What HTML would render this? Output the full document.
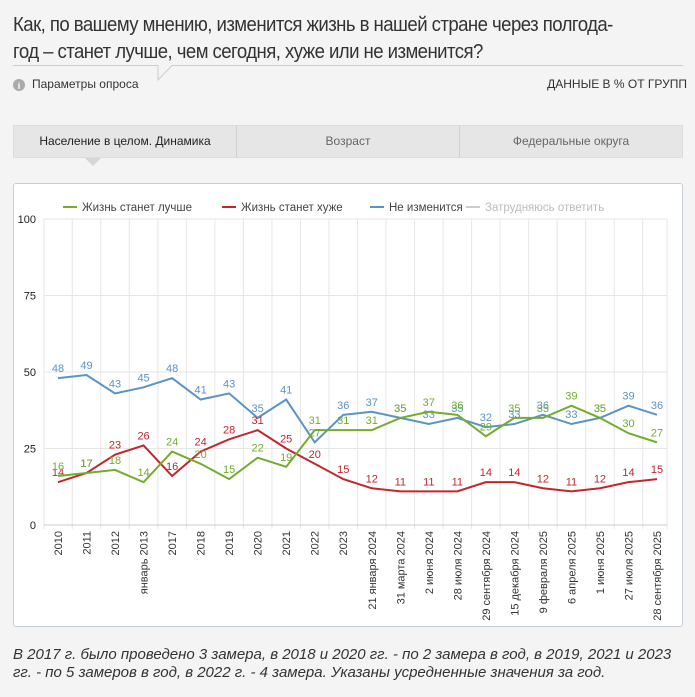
<!DOCTYPE html>
<html><head><meta charset="utf-8"><style>
body{margin:0;width:695px;height:697px;background:#f4f4f4;font-family:"Liberation Sans",sans-serif;position:relative;overflow:hidden}
.t{position:absolute;left:13px;top:12px;font-size:20px;line-height:27px;color:#333;letter-spacing:-0.6px;transform:scaleX(0.93);transform-origin:left}
.abs{position:absolute}
</style></head><body>
<div class="t">Как, по вашему мнению, изменится жизнь в нашей стране через полгода-<br>год – станет лучше, чем сегодня, хуже или не изменится?</div>
<svg class="abs" style="left:0;top:0" width="695" height="190">
<polyline points="13,65.5 158,65.5 158,80 172,65.5 683,65.5" fill="none" stroke="#ccc" stroke-width="1"/>
<circle cx="19" cy="85" r="6" fill="#aaa"/><text x="19" y="89" font-size="9" fill="#fff" text-anchor="middle" font-weight="bold">i</text>
<polygon points="85,158 101,158 93,166" fill="#d6d6d6"/>
</svg>
<div class="abs" style="left:32px;top:77px;font-size:12px;color:#333">Параметры опроса</div>
<div class="abs" style="right:8px;top:77px;font-size:12px;color:#333">ДАННЫЕ В % ОТ ГРУПП</div>
<div class="abs" style="left:13px;top:125px;width:670px;height:33px;background:#e6e6e6;border:1px solid #ddd;box-sizing:border-box;display:flex;font-size:12px;color:#444">
<div style="flex:1;text-align:center;line-height:31px;border-right:1px solid #d0d0d0;color:#222">Население в целом. Динамика</div>
<div style="flex:1;text-align:center;line-height:31px;border-right:1px solid #d0d0d0;color:#666">Возраст</div>
<div style="flex:1;text-align:center;line-height:31px;color:#666">Федеральные округа</div>
</div>
<div class="abs" style="left:13px;top:183px;width:670px;height:444px;background:#fff;border:1px solid #c8ced6;border-radius:3px;box-sizing:border-box"></div>
<svg id="c" class="abs" style="left:0;top:0" width="695" height="697"></svg>
<div class="abs" style="left:13px;top:646px;width:685px;font-size:15px;font-style:italic;color:#333;line-height:18px;white-space:nowrap">В 2017 г. было проведено 3 замера, в 2018 и 2020 гг. - по 2 замера в год, в 2019, 2021 и 2023<br>гг. - по 5 замеров в год, в 2022 г. - 4 замера. Указаны усредненные значения за год.</div>
<script>
const categories=["2010","2011","2012","январь 2013","2017","2018","2019","2020","2021","2022","2023","21 января 2024","31 марта 2024","2 июня 2024","28 июля 2024","29 сентября 2024","15 декабря 2024","9 февраля 2025","6 апреля 2025","1 июня 2025","27 июля 2025","28 сентября 2025"];
const better=[16,17,18,14,24,20,15,22,19,31,31,31,35,37,36,29,35,35,39,35,30,27];
const worse=[14,17,23,26,16,24,28,31,25,20,15,12,11,11,11,14,14,12,11,12,14,15];
const same=[48,49,43,45,48,41,43,35,41,27,36,37,35,33,35,32,33,36,33,35,39,36];
const yTicks=[0,25,50,75,100];
const NS="http://www.w3.org/2000/svg",svg=document.getElementById('c');
const L=44,R=667,T=219,B=525;
const X0=58,X1=657;
const step=(X1-X0)/(categories.length-1);
const x=i=>X0+step*i;
const y=v=>B-(B-T)*v/100;
function mk(t,a,p){const e=document.createElementNS(NS,t);for(const k in a)e.setAttribute(k,a[k]);(p||svg).appendChild(e);return e;}
for(let i=0;i<=categories.length;i++){const gx=Math.min(R,Math.max(L,x(i)-step/2));const g=mk('line',{x1:gx,x2:gx,y1:T,y2:B+4,stroke:'#e6e6e6'});}
yTicks.forEach(v=>{const g=mk('line',{x1:L,x2:R,y1:y(v),y2:y(v),stroke:v?'#e6e6e6':'#ccc'});
const t=mk('text',{x:36,y:y(v)+4,'text-anchor':'end','font-size':11,fill:'#222'});t.textContent=v;});
categories.forEach((c,i)=>{const t=mk('text',{transform:`translate(${x(i)+4},531) rotate(-90)`,'text-anchor':'end','font-size':11,fill:'#333'});t.textContent=c;});
const series=[[same,'#5b93c4','series-unchanged'],[worse,'#c1272d','series-worse'],[better,'#72ad2c','series-better']];
series.forEach(([d,col,n])=>{const p=mk('polyline',{points:d.map((v,i)=>x(i)+','+y(v)).join(' '),fill:'none',stroke:col,'stroke-width':2});
d.forEach((v,i)=>{const t=mk('text',{x:x(i),y:y(v)-6,'text-anchor':'middle','font-size':11,fill:col});t.textContent=v;});});
const leg=[['Жизнь станет лучше','#72ad2c',63],['Жизнь станет хуже','#c1272d',222],['Не изменится','#5b93c4',370],['Затрудняюсь ответить','#ccc',466]];
leg.forEach(([s,col,lx])=>{const g=mk('g',{});
mk('line',{x1:lx,x2:lx+14,y1:207,y2:207,stroke:col,'stroke-width':2},g);
const t=mk('text',{x:lx+19,y:211,'font-size':11.5,fill:col=='#ccc'?'#bbb':'#444'},g);t.textContent=s;});
</script>
</body></html>
